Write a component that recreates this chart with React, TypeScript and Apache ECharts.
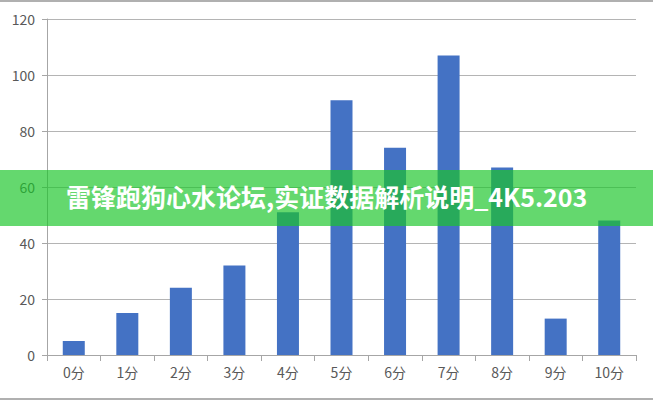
import { useEffect, useRef } from 'react';
import * as echarts from 'echarts';

const categories = ['0分', '1分', '2分', '3分', '4分', '5分', '6分', '7分', '8分', '9分', '10分'];
const values = [5, 15, 24, 32, 51, 91, 74, 107, 67, 13, 48];
const bannerText = '雷锋跑狗心水论坛,实证数据解析说明_4K5.203';

export default function App() {
  const chartRef = useRef(null);

  useEffect(() => {
    document.body.style.margin = '0';
    if (!chartRef.current) return;
    const chart = echarts.init(chartRef.current, null, { renderer: 'svg' });

    chart.setOption({
      animation: false,
      grid: { left: 47, right: 17, top: 17, bottom: 43 },
      xAxis: {
        type: 'category',
        data: categories,
        axisLine: { lineStyle: { color: '#a6a6a6' } },
        axisTick: { show: true, length: 6, lineStyle: { color: '#a6a6a6' } },
        axisLabel: { color: '#595959', fontSize: 14, margin: 10, fontFamily: 'Noto Sans CJK SC' }
      },
      yAxis: {
        type: 'value',
        min: 0,
        max: 120,
        interval: 20,
        axisLine: { show: true, lineStyle: { color: '#a6a6a6' } },
        axisTick: { show: true, length: 5, lineStyle: { color: '#a6a6a6' } },
        splitLine: { lineStyle: { color: '#b4b4b4' } },
        axisLabel: { color: '#595959', fontSize: 14, margin: 12, fontFamily: 'Noto Sans CJK SC' }
      },
      series: [
        {
          type: 'bar',
          data: values,
          barWidth: 22,
          itemStyle: { color: '#4472c4' }
        }
      ],
      graphic: [
        {
          type: 'rect',
          left: 0,
          top: 168,
          z: 100,
          shape: { width: 653, height: 56 },
          style: { fill: 'rgba(27, 198, 41, 0.68)' }
        },
        {
          type: 'text',
          left: 66,
          top: 181,
          z: 101,
          style: {
            text: bannerText,
            fill: '#ffffff',
            font: 'bold 25px "Noto Sans CJK SC"'
          }
        }
      ]
    });

    return () => chart.dispose();
  }, []);

  return (
    <div style={{ width: 653, height: 400, boxSizing: 'border-box', borderTop: '2px solid #b0b0b0', borderBottom: '2px solid #b0b0b0', background: '#fff' }}>
      <div ref={chartRef} style={{ width: 653, height: 396 }} />
    </div>
  );
}
